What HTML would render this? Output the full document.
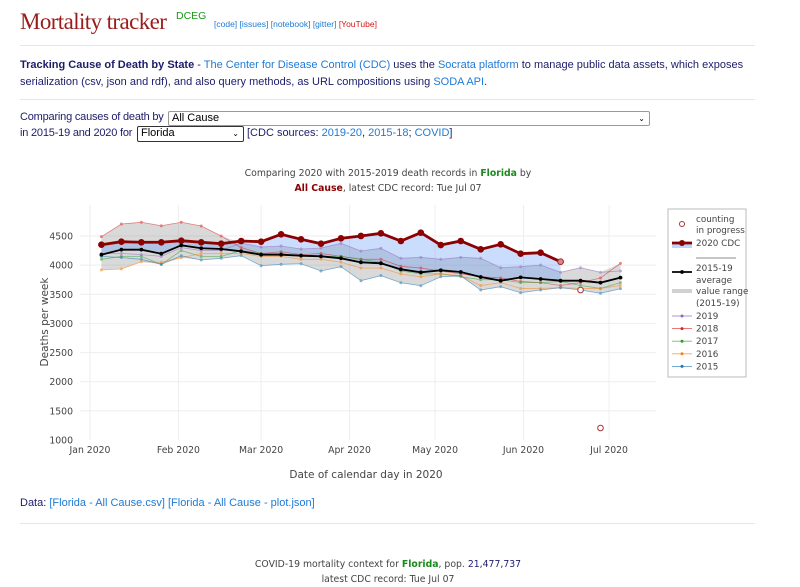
<!DOCTYPE html>
<html><head><meta charset="utf-8"><style>
body{margin:0;width:800px;height:586px;position:relative;background:#fff;font-family:"Liberation Sans",sans-serif;overflow:hidden}
.a{position:absolute;white-space:nowrap}
a{color:#1e7ad6;text-decoration:none}
.t{color:#1c1c6b;font-size:11px}
hr{position:absolute;left:20px;width:735px;margin:0;border:0;border-top:1px solid #e6e6e6}
.sel{position:absolute;border:1px solid #999;border-radius:2px;background:#fff;font-size:11px;box-sizing:border-box;padding:0 3px;line-height:13px;color:#000}
.ch{font-family:"DejaVu Sans",sans-serif;font-size:9.3px;color:#444}
</style></head><body>
<div class="a" style="left:20px;top:9px;font-family:'Liberation Serif',serif;font-size:23px;color:#9b1b1b;letter-spacing:-0.6px">Mortality tracker</div>
<div class="a" style="left:176px;top:10px;font-size:10.5px;color:#1a9a1a">DCEG</div>
<div class="a" style="left:214px;top:19px;font-size:8.5px"><a>[code]</a> <a>[issues]</a> <a>[notebook]</a> <a>[gitter]</a> <a style="color:#e01010">[YouTube]</a></div>
<hr style="top:45px">
<div class="a t" style="left:20px;top:57px;line-height:17px"><b>Tracking Cause of Death by State</b> - <a>The Center for Disease Control (CDC)</a> uses the <a>Socrata platform</a> to manage public data assets, which exposes<br>serialization (csv, json and rdf), and also query methods, as URL compositions using <a>SODA API</a>.</div>
<hr style="top:99px">
<div class="a t" style="left:20px;top:111px;letter-spacing:-0.2px">Comparing causes of death by</div>
<div class="sel" style="left:168px;top:111px;width:482px;height:15px">All Cause<span style="position:absolute;right:4px;font-size:8px">&#8964;</span></div>
<div class="a t" style="left:20px;top:127px;letter-spacing:-0.2px">in 2015-19 and 2020 for</div>
<div class="sel" style="left:137px;top:126px;width:107px;height:16px;border:1.5px solid #333">Florida<span style="position:absolute;right:4px;font-size:8px">&#8964;</span></div>
<div class="a t" style="left:247px;top:127px">[CDC sources: <a>2019-20</a>, <a>2015-18</a>; <a>COVID</a>]</div>
<div class="a ch" style="left:0;width:776px;top:166px;text-align:center;line-height:15px">Comparing 2020 with 2015-2019 death records in <b style="color:#1a8a1a">Florida</b> by<br><b style="color:#8b0000">All Cause</b>, latest CDC record: Tue Jul 07</div>
<svg id="ch" class="a" style="left:0;top:0" width="800" height="586"></svg>
<div class="a t" style="left:20px;top:497px">Data: <a>[Florida - All Cause.csv]</a> <a>[Florida - All Cause - plot.json]</a></div>
<hr style="top:523px">
<div class="a ch" style="left:0;width:776px;top:557px;text-align:center;line-height:15px">COVID-19 mortality context for <b style="color:#1a8a1a">Florida</b>, pop. <span style="color:#1c1c6b">21,477,737</span><br>latest CDC record: Tue Jul 07</div>
<script>
const dates=["2020-01-05","2020-01-12","2020-01-19","2020-01-26","2020-02-02","2020-02-09","2020-02-16","2020-02-23","2020-03-01","2020-03-08","2020-03-15","2020-03-22","2020-03-29","2020-04-05","2020-04-12","2020-04-19","2020-04-26","2020-05-03","2020-05-10","2020-05-17","2020-05-24","2020-05-31","2020-06-07","2020-06-14","2020-06-21","2020-06-28","2020-07-05"];
const cdc2020=[4350,4402,4392,4392,4419,4392,4368,4414,4402,4529,4443,4368,4460,4500,4546,4414,4556,4345,4414,4271,4357,4196,4213,4059];
const counting=[null,null,null,null,null,null,null,null,null,null,null,null,null,null,null,null,null,null,null,null,null,null,null,4059,3573,1206,null];
const avg1519=[4179,4265,4265,4196,4340,4289,4277,4237,4179,4179,4162,4151,4117,4048,4031,3928,3877,3911,3882,3796,3733,3790,3762,3733,3733,3699,3785];
const y2019=[4200,4200,4180,4150,4300,4250,4250,4380,4311,4328,4277,4294,4374,4242,4288,4117,4134,4100,4134,4117,3956,3973,4002,3877,3956,3877,3900];
const y2018=[4488,4705,4735,4676,4735,4671,4500,4300,4200,4230,4180,4200,4150,4100,4100,3980,3950,3900,3850,3800,3780,3720,3700,3650,3700,3780,4031];
const y2017=[4100,4150,4150,4014,4250,4150,4150,4250,4200,4200,4150,4150,4150,4100,4050,3900,3850,3850,3800,3750,3750,3700,3700,3720,3650,3600,3700];
const y2016=[3916,3933,4059,4050,4127,4200,4200,4200,4150,4150,4100,4100,4050,3950,3950,3850,3800,3850,3820,3650,3700,3600,3600,3613,3600,3600,3650];
const y2015=[4150,4130,4100,4014,4160,4088,4117,4162,3990,4014,4024,3899,3973,3733,3819,3698,3647,3801,3819,3573,3630,3527,3573,3613,3573,3517,3596];
const yTicks=[1000,1500,2000,2500,3000,3500,4000,4500];
const xTickDates=["2020-01-01","2020-02-01","2020-03-01","2020-04-01","2020-05-01","2020-06-01","2020-07-01"];
const xTickLabels=["Jan 2020","Feb 2020","Mar 2020","Apr 2020","May 2020","Jun 2020","Jul 2020"];

const NS="http://www.w3.org/2000/svg",svg=document.getElementById('ch');
const t0=Date.UTC(2020,0,1);
function dayOf(s){const p=s.split('-');return (Date.UTC(+p[0],p[1]-1,+p[2])-t0)/864e5;}
function X(s){return 90+dayOf(s)*2.852;}
function Y(v){return 440-(v-1000)*0.05829;}
function mk(tag,at,par){const e=document.createElementNS(NS,tag);for(const k in at)e.setAttribute(k,at[k]);(par||svg).appendChild(e);return e;}
const L=80,R=656,T=205,B=440;
yTicks.forEach(v=>{
  if(v>1000){const g=mk('line',{x1:L,x2:R,y1:Y(v),y2:Y(v),stroke:'#eee'});
  
  }
  const t=mk('text',{x:73,y:Y(v)+3.5,'text-anchor':'end','font-size':'9.3','font-family':'DejaVu Sans,sans-serif',fill:'#444'});t.textContent=v;
  
  
});
xTickDates.forEach((d,i)=>{
  const g=mk('line',{x1:X(d),x2:X(d),y1:T,y2:B,stroke:'#eee'});
  
  
  const t=mk('text',{x:X(d),y:453,'text-anchor':'middle','font-size':'9.3','font-family':'DejaVu Sans,sans-serif',fill:'#444'});t.textContent=xTickLabels[i];
  
  
});
const yt=mk('text',{x:0,y:0,transform:'translate(48,322) rotate(-90)','text-anchor':'middle','font-size':'10.5','font-family':'DejaVu Sans,sans-serif',fill:'#444'});yt.textContent='Deaths per week';


const xt=mk('text',{x:366,y:478,'text-anchor':'middle','font-size':'10.5','font-family':'DejaVu Sans,sans-serif',fill:'#444'});xt.textContent='Date of calendar day in 2020';


const yrs=[y2019,y2018,y2017,y2016,y2015];
const mx=dates.map((d,i)=>Math.max(...yrs.map(a=>a[i]))),mn=dates.map((d,i)=>Math.min(...yrs.map(a=>a[i])));
function pts(arr){return arr.map((v,i)=>v==null?null:X(dates[i])+','+Y(v)).filter(p=>p);}
const band=mk('polygon',{points:pts(mx).concat(pts(mn).reverse()).join(' '),fill:'rgba(140,140,140,0.33)',stroke:'none'});


const n=cdc2020.length;
const bf=mk('polygon',{points:pts(cdc2020).concat(pts(avg1519.slice(0,n)).reverse()).join(' '),fill:'rgba(90,150,245,0.32)',stroke:'none'});


const cols=['#9467bd','#d62728','#2ca02c','#ff7f0e','#1f77b4'],names=['2019','2018','2017','2016','2015'];
yrs.forEach((a,j)=>{
  const g=mk('g',{opacity:0.55});
  
  
  mk('polyline',{points:pts(a).join(' '),fill:'none',stroke:cols[j],'stroke-width':0.8},g);
  a.forEach((v,i)=>{const c=mk('circle',{cx:X(dates[i]),cy:Y(v),r:1.5,fill:cols[j]},g);
    
    });
});
const ga=mk('g',{});


mk('polyline',{points:pts(avg1519).join(' '),fill:'none',stroke:'#000','stroke-width':1.8},ga);
avg1519.forEach((v,i)=>{const c=mk('circle',{cx:X(dates[i]),cy:Y(v),r:1.9,fill:'#000'},ga);
  
  });
const gc=mk('g',{});


mk('polyline',{points:pts(cdc2020).join(' '),fill:'none',stroke:'#8b0000','stroke-width':2.8},gc);
cdc2020.forEach((v,i)=>{const c=mk('circle',{cx:X(dates[i]),cy:Y(v),r:3.3,fill:'#8b0000'},gc);
  
  });
counting.forEach((v,i)=>{if(v==null)return;const c=mk('circle',{cx:X(dates[i]),cy:Y(v),r:2.8,fill:i==n-1?'#d88':'#fff',stroke:'#a33','stroke-width':1});
  
  });
const lg=mk('g',{});


mk('rect',{x:668,y:209,width:78,height:168,fill:'#fff',stroke:'#bbb'},lg);
function lt(s,y){const t=mk('text',{x:696,y:y,'font-size':'8.8','font-family':'DejaVu Sans,sans-serif',fill:'#444'},lg);t.textContent=s;
  
  }
mk('circle',{cx:682,cy:224,r:2.5,fill:'#fff',stroke:'#a33'},lg);lt('counting',222);lt('in progress',233);
mk('rect',{x:672,y:243,width:20,height:5,fill:'rgba(90,150,245,0.4)'},lg);
mk('line',{x1:672,x2:692,y1:243,y2:243,stroke:'#8b0000','stroke-width':2.8},lg);mk('circle',{cx:682,cy:243,r:3,fill:'#8b0000'},lg);lt('2020 CDC',246);
mk('line',{x1:696,x2:736,y1:258,y2:258,stroke:'#666','stroke-width':0.7},lg);
mk('line',{x1:672,x2:692,y1:272,y2:272,stroke:'#000','stroke-width':1.8},lg);mk('circle',{cx:682,cy:272,r:1.9,fill:'#000'},lg);lt('2015-19',271);lt('average',283);
mk('line',{x1:672,x2:692,y1:291,y2:291,stroke:'rgba(140,140,140,0.4)','stroke-width':4},lg);lt('value range',294);lt('(2015-19)',306);
names.forEach((nm,j)=>{const y=316+j*12.6;mk('line',{x1:672,x2:692,y1:y,y2:y,stroke:cols[j],'stroke-width':0.9,opacity:0.7},lg);mk('circle',{cx:682,cy:y,r:1.5,fill:cols[j]},lg);lt(nm,y+3);});
</script>
</body></html>
